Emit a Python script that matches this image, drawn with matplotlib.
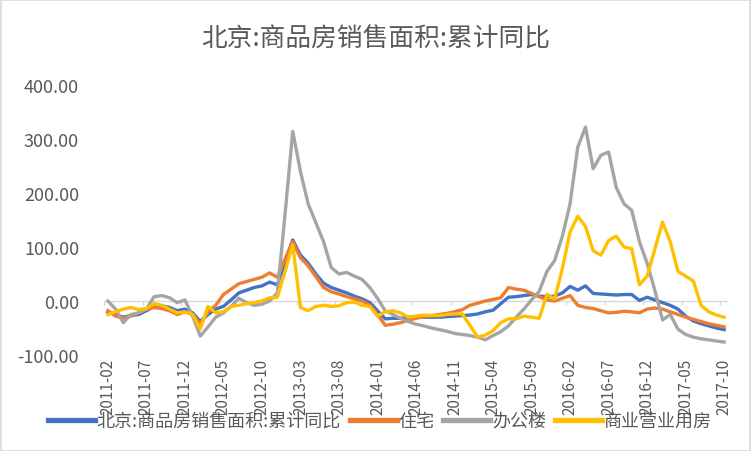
import matplotlib.pyplot as plt
import numpy as np
import pandas as pd
from matplotlib.patches import Rectangle

plt.rcParams['font.family'] = ['Noto Sans CJK SC', 'DejaVu Sans']

# monthly categories 2011-02 .. 2017-10
months = pd.date_range('2011-02-01', '2017-10-01', freq='MS').strftime('%Y-%m').tolist()

total = [-20, -25, -30, -27, -25, -18, -10, -9, -12, -18,
         -15, -22, -38, -25, -15, -10, 2, 15, 20, 25,
         28, 35, 30, 72, 113, 85, 70, 50, 33, 25,
         20, 15, 9, 4, -3, -18, -33, -32, -32, -30,
         -30, -30, -30, -30, -29, -28, -27, -26, -24, -20,
         -17, -5, 7, 8, 10, 12, 9, 8, 9, 15,
         27, 20, 28, 14, 13, 12, 11, 12, 12, 1,
         7, 2, -3, -8, -15, -28, -37, -42, -46, -50,
         -53]

residential = [-18, -28, -32, -28, -22, -15, -12, -14, -18, -25,
               -20, -25, -42, -20, -8, 12, 22, 32, 36, 40,
               44, 52, 44, 78, 110, 80, 65, 45, 25, 17,
               13, 8, 4, 0, -8, -25, -45, -43, -40, -36,
               -32, -29, -27, -25, -23, -20, -16, -8, -4, 0,
               3, 6, 25, 22, 20, 14, 8, 2, 0, 5,
               10, -8, -12, -14, -18, -22, -21, -19, -20, -22,
               -15, -13, -15, -20, -25, -30, -34, -38, -42, -45,
               -48]

office = [0, -15, -40, -25, -22, -15, 8, 10, 6, -3,
          2, -28, -65, -48, -30, -22, -10, 5, -3, -8,
          -6, 0, 15, 160, 314, 240, 180, 145, 110, 62,
          50, 53, 46, 40, 25, 5, -18, -25, -32, -38,
          -43, -46, -50, -53, -56, -60, -62, -64, -67, -72,
          -64, -57, -46, -30, -15, 2, 18, 55, 75, 120,
          180, 285, 322, 245, 270, 276, 210, 180, 168, 110,
          70, 20, -35, -25, -52, -62, -67, -70, -72, -74,
          -76]

commercial = [-25, -20, -15, -12, -16, -14, -5, -8, -15, -22,
              -20, -25, -52, -10, -22, -20, -10, -8, -5, -3,
              0, 6, 7, 55, 104, -12, -18, -10, -8, -10,
              -9, -3, -2, -8, -10, -28, -20, -18, -22, -30,
              -28, -26, -27, -27, -25, -24, -24, -45, -67, -63,
              -55, -40, -33, -33, -28, -30, -32, 12, 4, 60,
              128, 157, 138, 93, 85, 112, 120, 100, 97, 30,
              46, 96, 146, 110, 55, 46, 37, -8, -20, -26,
              -30]

series_names = ['北京:商品房销售面积:累计同比', '住宅', '办公楼', '商业营业用房']
colors = ['#4472C4', '#ED7D31', '#A5A5A5', '#FFC000']
yticks = [-100, 0, 100, 200, 300, 400]

txt = '#595959'

fig = plt.figure(figsize=(7.52, 4.52), dpi=100)
ax = fig.add_axes([104 / 752, 1 - 356 / 452, 624 / 752, 270 / 452])

x = np.arange(len(months))
ax.axhline(0, color='#D9D9D9', lw=1, zorder=1)
ax.vlines(np.arange(0, len(months), 5) - 0.5, -8, 0, color='#D9D9D9', lw=1, zorder=1)

for vals, name, c in zip([total, residential, office, commercial], series_names, colors):
    ax.plot(x, vals, color=c, lw=2.4, label=name, solid_joinstyle='round', zorder=3)

ax.set_xlim(-0.5, len(months) - 0.5)
ax.set_ylim(-100, 400)
ax.set_yticks(yticks)
ax.set_yticklabels(['%.2f' % v for v in yticks], fontsize=13, color=txt)
ax.set_xticks(x[::5])
ax.set_xticklabels(months[::5], rotation=90, fontsize=11, color=txt)
ax.tick_params(length=0)
ax.tick_params(axis='y', pad=18)
ax.tick_params(axis='x', pad=2)
for s in ax.spines.values():
    s.set_visible(False)

fig.text(0.5, 1 - 40 / 452, '北京:商品房销售面积:累计同比', ha='center', va='center',
         fontsize=18.5, color=txt)

leg = fig.legend(loc='center', bbox_to_anchor=(0.505, 1 - 422 / 452), ncol=4, frameon=False,
                 fontsize=13, handlelength=2.6, handletextpad=0.1, columnspacing=0.5,
                 labelcolor=txt)
for h in leg.get_lines():
    h.set_linewidth(3.8)

fig.patches.append(Rectangle((0.001, 0.001), 0.997, 0.997, transform=fig.transFigure,
                             fill=False, edgecolor='#D9D9D9', lw=1.2))

fig.savefig('out.png', dpi=100, facecolor='white')
